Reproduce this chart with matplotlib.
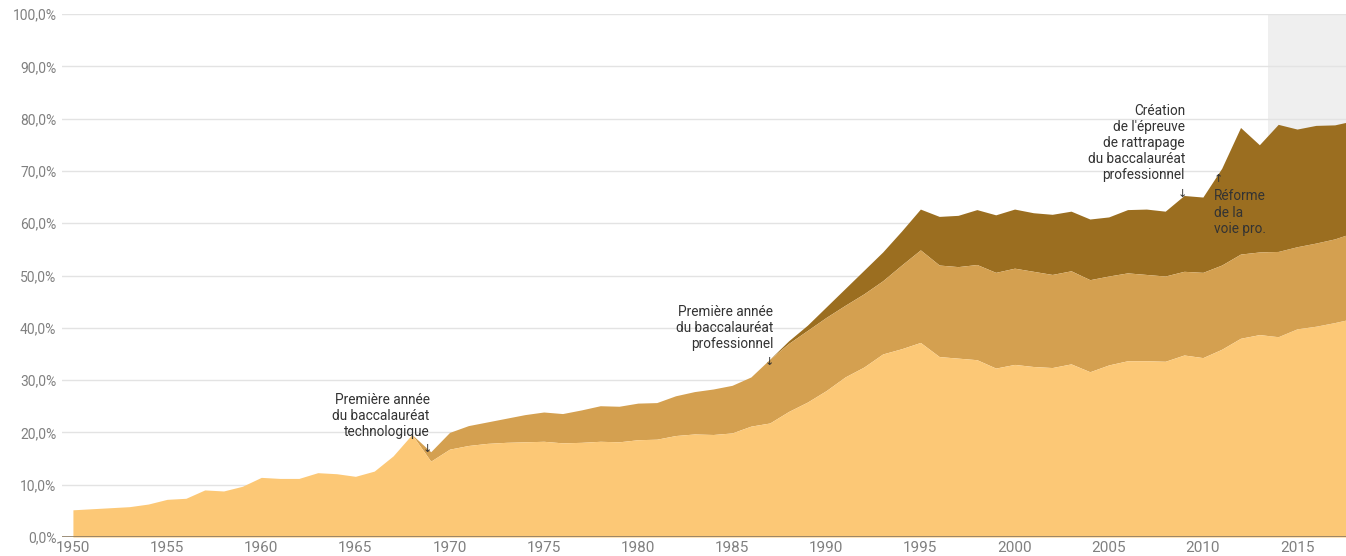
import matplotlib
matplotlib.use("Agg")
import matplotlib.pyplot as plt
import numpy as np

plt.rcParams['font.family'] = ['Roboto', 'DejaVu Sans']

years = list(range(1950, 2019))

general = [5.2, 5.4, 5.6, 5.8, 6.3, 7.2, 7.4, 9.0, 8.8, 9.7,
           11.4, 11.2, 11.2, 12.3, 12.1, 11.6, 12.6, 15.5, 19.6, 14.5,
           16.8, 17.5, 17.9, 18.1, 18.2, 18.3, 18.0, 18.1, 18.3, 18.2,
           18.6, 18.7, 19.4, 19.7, 19.6, 19.9, 21.2, 21.8, 24.0, 25.8,
           28.0, 30.6, 32.5, 35.0, 36.0, 37.2, 34.5, 34.2, 33.9, 32.3,
           33.0, 32.6, 32.4, 33.1, 31.6, 32.9, 33.7, 33.7, 33.6, 34.8,
           34.3, 35.9, 38.0, 38.7, 38.3, 39.8, 40.3, 41.0, 41.8]

# cumulative top of general + technologique
gen_techno = [None] * 19 + [16.3,
              20.0, 21.3, 22.0, 22.7, 23.4, 23.9, 23.6, 24.3, 25.1, 25.0,
              25.6, 25.7, 27.0, 27.8, 28.3, 29.0, 30.6, 34.0, 37.0, 39.5,
              42.0, 44.3, 46.5, 49.0, 52.0, 54.9, 52.0, 51.7, 52.1, 50.6,
              51.4, 50.8, 50.2, 50.9, 49.2, 49.9, 50.5, 50.2, 49.9, 50.8,
              50.6, 52.0, 54.1, 54.5, 54.6, 55.5, 56.2, 57.0, 58.2]

# cumulative top of all three (general + techno + professionnel)
total = [None] * 37 + [34.0, 37.5, 40.5,
         44.0, 47.5, 51.0, 54.5, 58.5, 62.7, 61.3, 61.5, 62.6, 61.6,
         62.7, 62.0, 61.7, 62.3, 60.8, 61.2, 62.6, 62.7, 62.3, 65.3,
         65.0, 70.5, 78.3, 75.0, 78.9, 78.0, 78.7, 78.8, 79.6]

y_ticks = [0, 10, 20, 30, 40, 50, 60, 70, 80, 90, 100]
x_ticks = [1950, 1955, 1960, 1965, 1970, 1975, 1980, 1985, 1990, 1995, 2000, 2005, 2010, 2015]

c_gen = '#FCC876'
c_tech = '#D4A050'
c_pro = '#9B6E20'

yrs = np.array(years)
gen = np.array(general)
gt = np.array([np.nan if v is None else v for v in gen_techno])
tot = np.array([np.nan if v is None else v for v in total])

# techno layer starts at 1968 with zero thickness
gt_full = gt.copy()
gt_full[18] = gen[18]
tot_full = tot.copy()
tot_full[36] = gt_full[36]

fig = plt.figure(figsize=(13.46, 5.56), dpi=100)
ax = fig.add_axes([62 / 1346, 19 / 556, 1 - 62 / 1346, (537 - 14) / 556])

ax.set_xlim(1949.42, 2017.6)
ax.set_ylim(0, 100)

ax.axvspan(2013.46, 2020, color='#efefef', zorder=0, lw=0)

for yv in y_ticks[1:]:
    ax.axhline(yv, color='#e3e3e3', lw=1, zorder=0.5)

m_t = ~np.isnan(gt_full)
m_p = ~np.isnan(tot_full)
ax.fill_between(yrs[m_p], gt_full[m_p], tot_full[m_p], color=c_pro, lw=0, zorder=2)
ax.fill_between(yrs[m_t], gen[m_t], gt_full[m_t], color=c_tech, lw=0, zorder=2)
ax.fill_between(yrs, 0, gen, color=c_gen, lw=0, zorder=2)

ax.axhline(0, color='#8c7b62', lw=1.2, zorder=3)

for s in ax.spines.values():
    s.set_visible(False)

ax.set_yticks(y_ticks)
ax.set_yticklabels([f"{v:.1f}%".replace('.', ',') for v in y_ticks])
ax.set_xticks(x_ticks)
ax.set_xticklabels([str(v) for v in x_ticks])
ax.tick_params(axis='both', length=0, colors='#808080')
ax.tick_params(axis='y', pad=4, labelsize=10)
ax.tick_params(axis='x', pad=3, labelsize=11)

tc = '#333333'
fs = 9.8
ls = 1.2
ax.text(1968.95, 18.7, "Première année\ndu baccalauréat\ntechnologique", ha='right', va='bottom',
        fontsize=fs, color=tc, linespacing=ls)
ax.text(1968.8, 15.9, "↓", ha='center', va='bottom', fontsize=8, color=tc)

ax.text(1987.2, 35.5, "Première année\ndu baccalauréat\nprofessionnel", ha='right', va='bottom',
        fontsize=fs, color=tc, linespacing=ls)
ax.text(1987.0, 32.5, "↓", ha='center', va='bottom', fontsize=8, color=tc)

ax.text(2009.05, 67.8, "Création\nde l'épreuve\nde rattrapage\ndu baccalauréat\nprofessionnel",
        ha='right', va='bottom', fontsize=fs, color=tc, linespacing=ls)
ax.text(2008.9, 64.6, "↓", ha='center', va='bottom', fontsize=8, color=tc)

ax.text(2010.8, 67.5, "↑", ha='center', va='bottom', fontsize=8, color=tc)
ax.text(2010.6, 57.6, "Réforme\nde la\nvoie pro.", ha='left', va='bottom',
        fontsize=fs, color=tc, linespacing=ls)

fig.savefig("out.png", dpi=100)
